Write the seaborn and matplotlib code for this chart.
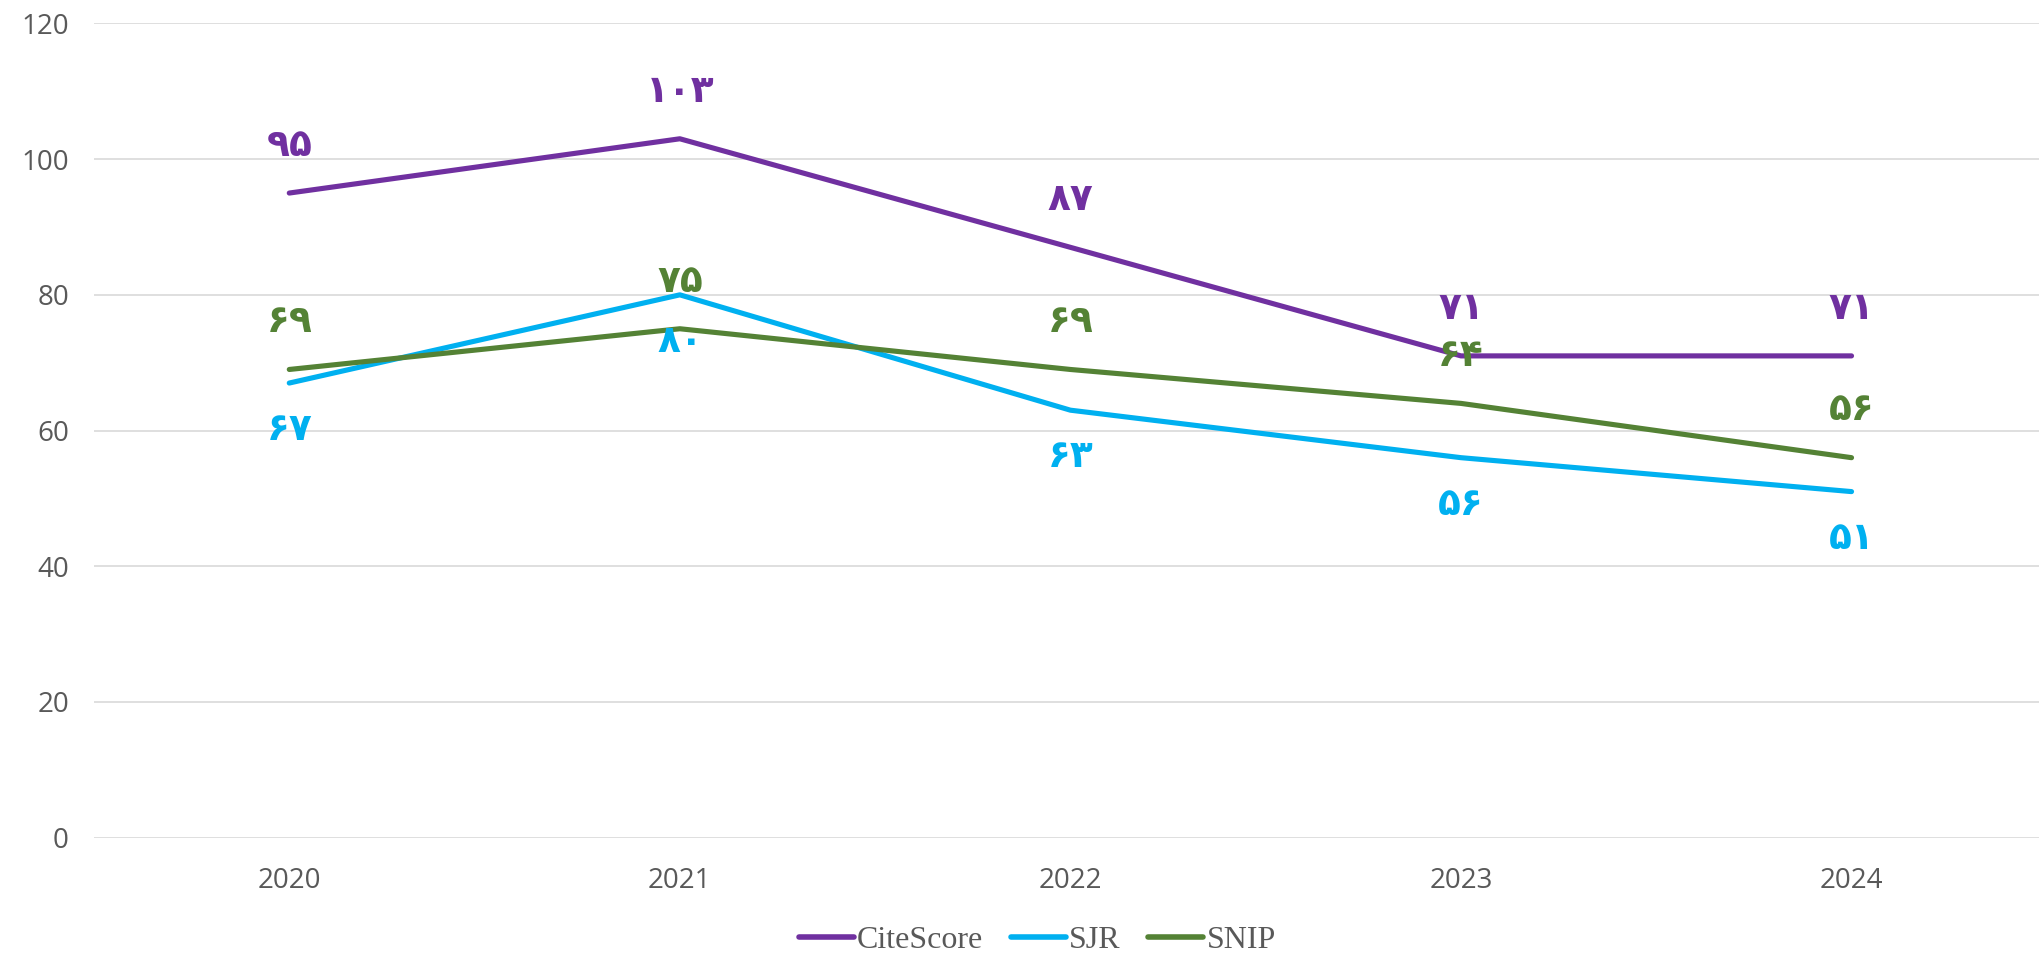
import matplotlib
matplotlib.use("Agg")
import matplotlib.pyplot as plt
import pandas as pd
import seaborn as sns

years = ["2020", "2021", "2022", "2023", "2024"]
citescore = [95, 103, 87, 71, 71]
sjr = [67, 80, 63, 56, 51]
snip = [69, 75, 69, 64, 56]
series_names = ["CiteScore", "SJR", "SNIP"]
colors = ["#7030A0", "#00B0F0", "#548235"]
# label above (+1) or below (-1) the point
label_side = {"CiteScore": 1, "SJR": -1, "SNIP": 1}

fa_digits = str.maketrans("0123456789", "۰۱۲۳۴۵۶۷۸۹")

df = pd.DataFrame({
    "year": years * 3,
    "value": citescore + sjr + snip,
    "series": [s for s in series_names for _ in years],
})

sns.set_style("white")
plt.rcParams["font.family"] = ["DejaVu Sans"]

fig = plt.figure(figsize=(20.39, 9.56), dpi=100)
ax = fig.add_axes([0.0461, 0.1238, 0.9539, 0.8517])

sns.lineplot(data=df, x="year", y="value", hue="series", palette=colors,
             linewidth=3.7, sort=False, ax=ax, legend=True)
for line in ax.get_lines():
    line.set_solid_capstyle("round")

# data labels in Persian digits
for name, col in zip(series_names, colors):
    sub = df[df["series"] == name]
    for i, v in enumerate(sub["value"]):
        ax.annotate(str(v).translate(fa_digits), (i, v),
                    xytext=(0, 34 * label_side[name]), textcoords="offset points",
                    ha="center", va="center", color=col, fontsize=27,
                    fontweight="bold")

ax.set_ylim(0, 120)
ax.set_xlim(-0.5, 4.48)
ax.set_yticks(range(0, 121, 20))
ax.yaxis.grid(True, color="#D9D9D9", linewidth=1.2)
ax.xaxis.grid(False)
for s in ax.spines.values():
    s.set_visible(False)
ax.tick_params(axis="both", length=0, labelsize=20, labelcolor="#595959")
ax.tick_params(axis="y", pad=18)
ax.tick_params(axis="x", pad=21)
for lab in ax.get_xticklabels() + ax.get_yticklabels():
    lab.set_family("Open Sans")
ax.set_xlabel("")
ax.set_ylabel("")

handles, labels = ax.get_legend_handles_labels()
leg = ax.legend(handles, labels, loc="center", bbox_to_anchor=(0.485, -0.126),
                ncol=3, frameon=False, handlelength=1.72, handletextpad=0.1,
                columnspacing=0.87,
                prop={"family": "Liberation Serif", "size": 23})
for t in leg.get_texts():
    t.set_color("#595959")
for h in leg.get_lines():
    h.set_linewidth(4)
    h.set_solid_capstyle("round")

fig.savefig("out.png", dpi=100)
